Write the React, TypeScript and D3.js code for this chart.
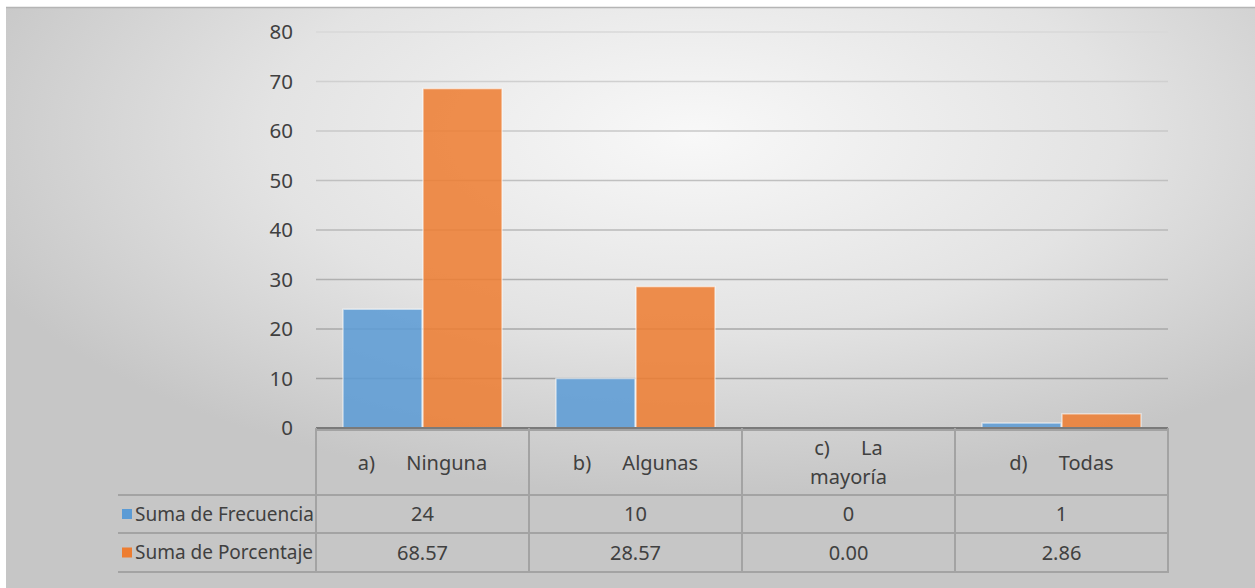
import React from "react";
import * as d3 from "d3";

// Response categories (prefix + name, wrapped where the cell is too narrow)
const categories: string[][] = [
  ["a)      Ninguna"],
  ["b)      Algunas"],
  ["c)      La", "mayoría"],
  ["d)      Todas"],
];
const seriesNames = ["Suma de Frecuencia", "Suma de Porcentaje"];
const frecuencia = [24, 10, 0, 1];
const porcentaje = [68.57, 28.57, 0.0, 2.86];
const yTicks = [0, 10, 20, 30, 40, 50, 60, 70, 80];

const W = 1255;
const H = 588;
const FONT = "'Noto Sans', 'Open Sans', sans-serif";
const TEXT = "#404040";
const COLORS = ["#5b9bd5", "#ed7d31"];
const FS = 20;

export default function App() {
  const plotLeft = 316;
  const plotRight = 1168;
  const plotTop = 32;
  const plotBottom = 428;

  const x0 = d3
    .scaleBand<number>()
    .domain(d3.range(categories.length))
    .range([plotLeft, plotRight])
    .paddingInner(0)
    .paddingOuter(0);
  const x1 = d3
    .scaleBand<number>()
    .domain([0, 1])
    .range([0, x0.bandwidth()])
    .paddingInner(0)
    .paddingOuter(0.331);
  const y = d3.scaleLinear().domain([0, 80]).range([plotBottom, plotTop]);

  const gridColor = d3
    .scaleLinear<string>()
    .domain([80, 0])
    .range(["#d8d8d8", "#989898"]);

  const series = [frecuencia, porcentaje];

  // Data table geometry
  const tableTop = 430;
  const rowBottoms = [495, 533, 572];
  const legendLeft = 118;
  const colEdges = [plotLeft, ...x0.domain().map((i) => (x0(i) as number) + x0.bandwidth())];
  const borderColor = "#a3a3a3";

  return (
    <svg
      width={W}
      height={H}
      style={{ position: "absolute", left: 0, top: 0, display: "block" }}
      fontFamily={FONT}
    >
      <defs>
        <radialGradient id="bg" cx="0.55" cy="0.22" r="0.62" gradientUnits="objectBoundingBox">
          <stop offset="0" stopColor="#f8f8f8" />
          <stop offset="0.55" stopColor="#e3e3e3" />
          <stop offset="1" stopColor="#c6c6c6" />
        </radialGradient>
      </defs>
      <rect x={0} y={0} width={W} height={H} fill="#ffffff" />
      <rect x={6} y={7} width={W - 6} height={H - 7} fill="url(#bg)" />
      <line x1={6} x2={W} y1={7.5} y2={7.5} stroke="#b5b5b5" strokeWidth={1.5} />

      {/* gridlines */}
      {yTicks
        .filter((t) => t > 0)
        .map((t) => (
          <line
            key={t}
            x1={plotLeft}
            x2={plotRight}
            y1={y(t)}
            y2={y(t)}
            stroke={gridColor(t)}
            strokeWidth={1.5}
          />
        ))}

      {/* y tick labels */}
      {yTicks.map((t) => (
        <text
          key={t}
          x={293}
          y={y(t)}
          dy="0.35em"
          textAnchor="end"
          fontSize={FS + 0.5}
          fill={TEXT}
        >
          {t}
        </text>
      ))}

      {/* bars */}
      {series.map((vals, s) =>
        vals.map((v, i) => {
          const bx = (x0(i) as number) + (x1(s) as number);
          const by = y(v);
          const h = plotBottom - by;
          if (h <= 0) return null;
          return (
            <rect
              key={`${s}-${i}`}
              x={bx + 0.5}
              y={by}
              width={x1.bandwidth() - 1}
              height={h}
              fill={COLORS[s]}
              fillOpacity={0.86}
              stroke="#ffffff"
              strokeOpacity={0.55}
              strokeWidth={1.5}
            />
          );
        })
      )}

      {/* category axis line */}
      <line x1={plotLeft} x2={plotRight} y1={plotBottom} y2={plotBottom} stroke="#7a7a7a" strokeWidth={2} />

      {/* data table borders */}
      <line x1={plotLeft} x2={plotRight} y1={tableTop} y2={tableTop} stroke={borderColor} strokeWidth={2} />
      {rowBottoms.map((rb) => (
        <line key={rb} x1={legendLeft} x2={plotRight} y1={rb} y2={rb} stroke={borderColor} strokeWidth={2} />
      ))}
      {colEdges.map((cx) => (
        <line
          key={cx}
          x1={cx}
          x2={cx}
          y1={tableTop - 2}
          y2={rowBottoms[2] + 1}
          stroke={borderColor}
          strokeWidth={2}
        />
      ))}

      {/* category header cells */}
      {categories.map((lines, i) => {
        const cx = (x0(i) as number) + x0.bandwidth() / 2;
        const cy = (tableTop + rowBottoms[0]) / 2;
        const lh = 29;
        const startY = cy - ((lines.length - 1) * lh) / 2;
        return (
          <text
            key={i}
            x={cx}
            textAnchor="middle"
            fontSize={FS}
            fill={TEXT}
            style={{ whiteSpace: "pre" }}
          >
            {lines.map((ln, k) => (
              <tspan key={k} x={cx} y={startY + k * lh} dy="0.35em">
                {ln}
              </tspan>
            ))}
          </text>
        );
      })}

      {/* series rows: legend key + values */}
      {series.map((vals, s) => {
        const top = rowBottoms[s];
        const bottom = rowBottoms[s + 1];
        const cy = (top + bottom) / 2;
        return (
          <g key={s}>
            <rect x={122} y={cy - 5} width={10} height={10} fill={COLORS[s]} />
            <text x={135} y={cy} dy="0.35em" fontSize={19} fill={TEXT}>
              {seriesNames[s]}
            </text>
            {vals.map((v, i) => (
              <text
                key={i}
                x={(x0(i) as number) + x0.bandwidth() / 2}
                y={cy}
                dy="0.35em"
                textAnchor="middle"
                fontSize={FS}
                fill={TEXT}
              >
                {s === 0 ? String(v) : v.toFixed(2)}
              </text>
            ))}
          </g>
        );
      })}
    </svg>
  );
}
